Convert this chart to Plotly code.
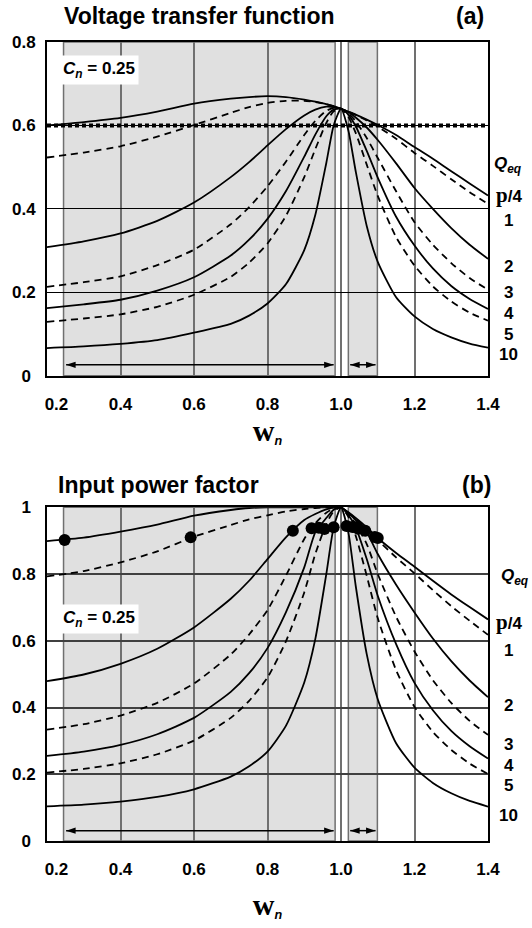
import plotly.graph_objects as go

# ---------------- data ----------------
omega_n = [0.2, 0.3, 0.4, 0.5, 0.6, 0.7, 0.75, 0.8, 0.85, 0.9, 0.93, 0.96, 0.98,
           1.0, 1.02, 1.04, 1.07, 1.1, 1.15, 1.2, 1.25, 1.3, 1.35, 1.4]

q_eq_labels = ["p/4", "1", "2", "3", "4", "5", "10"]

# (a) voltage transfer function
vtf_q_pi4 = [0.600, 0.608, 0.618, 0.633, 0.652, 0.664, 0.668, 0.670, 0.668, 0.662, 0.657, 0.651, 0.646,
             0.640, 0.633, 0.626, 0.614, 0.601, 0.577, 0.548, 0.520, 0.490, 0.461, 0.432]
vtf_q1 = [0.523, 0.535, 0.550, 0.573, 0.601, 0.630, 0.644, 0.654, 0.659, 0.659, 0.656, 0.651, 0.646,
          0.640, 0.633, 0.625, 0.612, 0.597, 0.568, 0.534, 0.503, 0.471, 0.440, 0.412]
vtf_q2 = [0.308, 0.322, 0.341, 0.371, 0.415, 0.476, 0.512, 0.552, 0.591, 0.624, 0.638, 0.645, 0.644,
          0.640, 0.632, 0.619, 0.595, 0.565, 0.509, 0.450, 0.400, 0.354, 0.314, 0.280]
vtf_q3 = [0.213, 0.224, 0.238, 0.265, 0.302, 0.363, 0.404, 0.454, 0.513, 0.577, 0.611, 0.635, 0.642,
          0.640, 0.629, 0.610, 0.570, 0.522, 0.442, 0.368, 0.314, 0.270, 0.234, 0.206]
vtf_q4 = [0.162, 0.171, 0.182, 0.204, 0.236, 0.288, 0.326, 0.376, 0.442, 0.525, 0.578, 0.622, 0.638,
          0.640, 0.626, 0.598, 0.539, 0.475, 0.381, 0.312, 0.257, 0.215, 0.184, 0.160]
vtf_q5 = [0.129, 0.137, 0.147, 0.165, 0.194, 0.237, 0.271, 0.317, 0.383, 0.476, 0.543, 0.606, 0.634,
          0.640, 0.621, 0.582, 0.506, 0.431, 0.332, 0.264, 0.214, 0.178, 0.151, 0.132]
vtf_q10 = [0.066, 0.070, 0.076, 0.085, 0.103, 0.124, 0.144, 0.173, 0.219, 0.301, 0.385, 0.510, 0.600,
           0.640, 0.588, 0.490, 0.359, 0.273, 0.188, 0.142, 0.112, 0.092, 0.077, 0.067]

# (b) input power factor
pf_q_pi4 = [0.899, 0.909, 0.927, 0.948, 0.975, 0.992, 0.998, 1.000, 1.000, 1.000, 1.000, 1.000, 1.000,
            1.000, 0.985, 0.968, 0.940, 0.908, 0.863, 0.822, 0.780, 0.739, 0.701, 0.664]
pf_q1 = [0.793, 0.809, 0.835, 0.868, 0.912, 0.947, 0.964, 0.976, 0.988, 0.995, 0.998, 1.000, 1.000,
         1.000, 0.984, 0.966, 0.936, 0.902, 0.850, 0.802, 0.752, 0.704, 0.660, 0.618]
pf_q2 = [0.479, 0.499, 0.531, 0.576, 0.640, 0.726, 0.780, 0.845, 0.910, 0.962, 0.980, 0.994, 0.999,
         1.000, 0.983, 0.962, 0.925, 0.860, 0.768, 0.685, 0.607, 0.539, 0.481, 0.431]
pf_q3 = [0.334, 0.350, 0.376, 0.414, 0.472, 0.559, 0.619, 0.692, 0.795, 0.905, 0.952, 0.984, 0.997,
         1.000, 0.980, 0.950, 0.890, 0.800, 0.672, 0.568, 0.482, 0.414, 0.360, 0.318]
pf_q4 = [0.255, 0.268, 0.288, 0.320, 0.369, 0.447, 0.503, 0.578, 0.685, 0.820, 0.925, 0.968, 0.993,
         1.000, 0.977, 0.940, 0.845, 0.735, 0.590, 0.474, 0.392, 0.330, 0.284, 0.247]
pf_q5 = [0.205, 0.216, 0.233, 0.260, 0.301, 0.369, 0.420, 0.490, 0.598, 0.745, 0.860, 0.950, 0.988,
         1.000, 0.972, 0.915, 0.795, 0.668, 0.512, 0.402, 0.327, 0.273, 0.232, 0.201]
pf_q10 = [0.104, 0.109, 0.118, 0.132, 0.155, 0.193, 0.224, 0.268, 0.345, 0.475, 0.605, 0.800, 0.940,
          1.000, 0.925, 0.765, 0.560, 0.425, 0.293, 0.220, 0.174, 0.143, 0.120, 0.103]

# operating-range markers on the power-factor curves (where M = 0.6)
dot_omega = [0.248, 0.591, 0.869, 0.920, 0.940, 0.955, 0.980,
             1.015, 1.031, 1.040, 1.047, 1.066, 1.092, 1.100]
dot_pf = [0.902, 0.910, 0.930, 0.937, 0.939, 0.935, 0.940,
          0.944, 0.941, 0.940, 0.936, 0.930, 0.911, 0.908]

m_min = 0.6                                   # minimum voltage transfer ratio
shade_ranges = [(0.245, 0.984), (1.020, 1.099)]
arrow_ranges = [(0.252, 0.980), (1.025, 1.094)]
cn_value = "0.25"

x_ticks = [0.2, 0.4, 0.6, 0.8, 1.0, 1.2, 1.4]
x_ticktext = ["\u00a0\u00a0\u00a0\u00a00.2", "0.4", "0.6", "0.8", "1.0", "1.2", "1.4"]
ya_ticks = [0, 0.2, 0.4, 0.6, 0.8]
ya_ticktext = ["0\u00a0", "0.2", "0.4", "0.6", "0.8"]
yb_ticks = [0, 0.2, 0.4, 0.6, 0.8, 1.0]
yb_ticktext = ["0\u00a0", "0.2", "0.4", "0.6", "0.8", "1\u00a0"]

vtf_series = [vtf_q_pi4, vtf_q1, vtf_q2, vtf_q3, vtf_q4, vtf_q5, vtf_q10]
pf_series = [pf_q_pi4, pf_q1, pf_q2, pf_q3, pf_q4, pf_q5, pf_q10]

# ---------------- layout helpers ----------------
W, H = 532, 928
L, R, T, B = 44, 44, 42, 79
PW = W - L - R
PH = H - T - B


def xp(px):
    return (px - L) / PW


def yp(py):
    return (H - B - py) / PH


FONT = "Liberation Sans"
dashes = ["solid", "7px,5px", "solid", "7px,5px", "solid", "7px,5px", "solid"]

fig = go.Figure()

for i, (ys, name) in enumerate(zip(vtf_series, q_eq_labels)):
    fig.add_trace(go.Scatter(x=omega_n, y=ys, mode="lines", name=name,
                             line=dict(color="black", width=1.8, dash=dashes[i],
                                       shape="spline", smoothing=0.6),
                             xaxis="x", yaxis="y", showlegend=False))

for i, (ys, name) in enumerate(zip(pf_series, q_eq_labels)):
    fig.add_trace(go.Scatter(x=omega_n, y=ys, mode="lines", name=name,
                             line=dict(color="black", width=1.8, dash=dashes[i],
                                       shape="spline", smoothing=0.6),
                             xaxis="x2", yaxis="y2", showlegend=False))

fig.add_trace(go.Scatter(x=dot_omega, y=dot_pf, mode="markers",
                         marker=dict(color="black", size=12),
                         xaxis="x2", yaxis="y2", showlegend=False))

# double-headed range arrows
for xa, ya, yv in (("x", "y", 0.026), ("x2", "y2", 0.031)):
    for a, b in arrow_ranges:
        fig.add_trace(go.Scatter(x=[a, b], y=[yv, yv], mode="lines+markers",
                                 line=dict(color="black", width=1.5),
                                 marker=dict(symbol="arrow", size=10, color="black",
                                             angle=[-90, 90]),
                                 xaxis=xa, yaxis=ya, showlegend=False, hoverinfo="skip"))

wn_text = ('<span style="font-family:Liberation Serif;font-size:30px"><b>w</b></span>'
           '<sub><i><b>n</b></i></sub>')

axis_common = dict(showline=True, linewidth=2, linecolor="black", mirror=True,
                   ticks="", zeroline=False,
                   tickfont=dict(family=FONT, size=17, color="black", weight="bold"))

fig.update_layout(
    width=W, height=H, autosize=False, showlegend=False,
    margin=dict(l=L, r=R, t=T, b=B),
    paper_bgcolor="white", plot_bgcolor="white",
    font=dict(family=FONT, color="black"),
    xaxis=dict(domain=[0, 1], anchor="y", range=[0.2, 1.4], tickvals=x_ticks,
               ticktext=x_ticktext, showgrid=True, gridcolor="#707070", gridwidth=1.5,
               ticklabelstandoff=12,
               title=dict(text=wn_text, standoff=8, font=dict(family=FONT, size=18)),
               **axis_common),
    yaxis=dict(domain=[yp(379), 1], anchor="x", range=[0, 0.8], tickvals=ya_ticks,
               ticktext=ya_ticktext, showgrid=True, gridcolor="black", gridwidth=1,
               ticklabelstandoff=6, **axis_common),
    xaxis2=dict(domain=[0, 1], anchor="y2", range=[0.2, 1.4], tickvals=x_ticks,
                ticktext=x_ticktext, showgrid=True, gridcolor="#707070", gridwidth=1.5,
                ticklabelstandoff=12,
                title=dict(text=wn_text, standoff=24, font=dict(family=FONT, size=18)),
                **axis_common),
    yaxis2=dict(domain=[0, yp(512)], anchor="x2", range=[0, 1.0], tickvals=yb_ticks,
                ticktext=yb_ticktext, showgrid=True, gridcolor="#404040", gridwidth=1.5,
                ticklabelstandoff=6, **axis_common),
)

# shaded operating ranges
for xr, yr in (("x", "y domain"), ("x2", "y2 domain")):
    for a, b in shade_ranges:
        fig.add_shape(type="rect", xref=xr, yref=yr, x0=a, x1=b, y0=0, y1=1,
                      fillcolor="#e0e0e0", line=dict(color="#707070", width=1.5),
                      layer="below")

# minimum gain line
fig.add_shape(type="line", xref="x domain", yref="y", x0=0, x1=1, y0=m_min, y1=m_min,
              line=dict(color="black", width=4, dash="4px,3px"), layer="above")


def note(text, px, py, size, xanchor="center", bg=None):
    fig.add_annotation(text=text, x=xp(px), y=yp(py), xref="paper", yref="paper",
                       xanchor=xanchor, yanchor="middle", showarrow=False,
                       font=dict(family=FONT, size=size, color="black"),
                       bgcolor=bg, borderpad=3)


# titles
note("<b>Voltage transfer function</b>", 57, 16, 23, xanchor="left")
note("<b>(a)</b>", 470, 16, 23)
note("<b>Input power factor</b>", 51, 489, 23, xanchor="left")
note("<b>(b)</b>", 476, 489, 23)

# C_n boxes
cn_text = "<b><i>C</i><sub><i>n</i></sub> = " + cn_value + "</b>"
note(cn_text, 96, 70, 17, bg="white")
note(cn_text, 96, 625, 17, bg="white")

# Q_eq labels on the right
qeq_text = "<b><i>Q</i><sub><i>eq</i></sub></b>"


def q_label(lbl):
    if lbl == "p/4":
        return ('<span style="font-family:Liberation Serif;font-size:21px"><b>p</b></span>'
                '<b>/4</b>')
    return "<b>" + lbl + "</b>"


label_py_a = [197, 222, 269, 295, 316, 337, 358]
label_py_b = [628, 657, 712, 752, 773, 793, 823]
note(qeq_text, 508, 166, 17)
note(qeq_text, 515, 582, 17)
for lbl, pa, pb in zip(q_eq_labels, label_py_a, label_py_b):
    note(q_label(lbl), 509, pa, 17)
    note(q_label(lbl), 509, pb, 17)

fig.write_html("out.html",
               config={"displayModeBar": False},
               post_script="document.body.style.margin='0px';"
                           "document.body.style.overflow='hidden';")
